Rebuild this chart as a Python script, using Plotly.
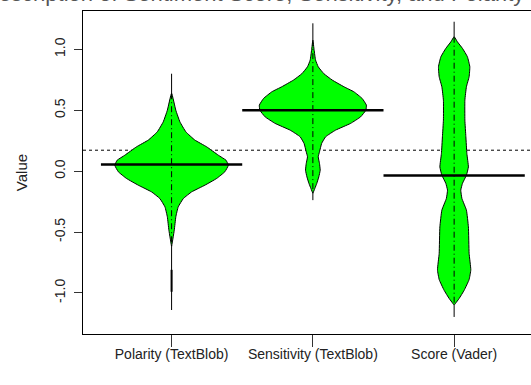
import plotly.graph_objects as go

# ---------------- data ----------------
categories = ["Polarity (TextBlob)", "Sensitivity (TextBlob)", "Score (Vader)"]
overall_mean = 0.172
bean_medians = [0.055, 0.50, -0.035]
tail_min = [-1.14, -0.238, -1.197]
tail_max = [0.80, 1.214, 1.227]

# density profiles: value levels (top -> bottom) and half widths (x units)
pol_levels = [0.64, 0.50, 0.405, 0.323, 0.255, 0.20, 0.131, 0.09, 0.049, -0.005,
              -0.06, -0.115, -0.17, -0.225, -0.293, -0.375, -0.485, -0.62]
pol_width = [0.0, 0.030, 0.059, 0.101, 0.165, 0.248, 0.331, 0.385, 0.402, 0.377,
             0.319, 0.236, 0.142, 0.083, 0.047, 0.030, 0.019, 0.0]

sen_levels = [1.076, 0.994, 0.912, 0.857, 0.80, 0.748, 0.693, 0.652, 0.597, 0.542, 0.50,
              0.446, 0.392, 0.337, 0.282, 0.227, 0.159, 0.118, 0.063, 0.008, -0.047,
              -0.10, -0.142, -0.183]
sen_width = [0.0, 0.009, 0.019, 0.038, 0.078, 0.137, 0.220, 0.290, 0.349, 0.379, 0.375,
             0.338, 0.267, 0.161, 0.090, 0.062, 0.047, 0.038, 0.047, 0.052, 0.042,
             0.028, 0.014, 0.0]

sco_levels = [1.104, 1.062, 1.008, 0.939, 0.857, 0.775, 0.693, 0.583, 0.419, 0.282, 0.145,
              0.035, -0.033, -0.10, -0.156, -0.224, -0.32, -0.457, -0.676, -0.81, -0.89,
              -0.978, -1.046, -1.10]
sco_width = [0.0, 0.023, 0.059, 0.094, 0.111, 0.106, 0.087, 0.076, 0.076, 0.083, 0.090,
             0.101, 0.087, 0.059, 0.047, 0.055, 0.087, 0.101, 0.106, 0.118, 0.106,
             0.071, 0.035, 0.0]

pol_thick_seg = [-0.81, -0.99]

y_ticks = [-1.0, -0.5, 0.0, 0.5, 1.0]
y_tick_text = ["-1.0", "-0.5", "0.0", "0.5", "1.0"]
title_text = "Description of Sentiment Score, Sensitivity, and Polarity"

levels = [pol_levels, sen_levels, sco_levels]
widths = [pol_width, sen_width, sco_width]

# ---------------- figure ----------------
fig = go.Figure()
FONT = "Liberation Sans, Arial, sans-serif"

for i, cat in enumerate(categories):
    c = i + 1
    lv, wd = levels[i], widths[i]
    xs = [c - w for w in wd] + [c + w for w in reversed(wd)]
    ys = list(lv) + list(reversed(lv))
    fig.add_trace(go.Scatter(x=xs, y=ys, mode="lines", fill="toself",
                             fillcolor="#00FF00",
                             line=dict(color="black", width=1, shape="spline", smoothing=0.35),
                             hoverinfo="skip", showlegend=False))
    # tails
    fig.add_trace(go.Scatter(x=[c, c], y=[lv[0], tail_max[i]], mode="lines",
                             line=dict(color="black", width=1), showlegend=False, hoverinfo="skip"))
    fig.add_trace(go.Scatter(x=[c, c], y=[lv[-1], tail_min[i]], mode="lines",
                             line=dict(color="black", width=1), showlegend=False, hoverinfo="skip"))
    # dash-dot inner line
    fig.add_trace(go.Scatter(x=[c, c], y=[lv[0], lv[-1]], mode="lines",
                             line=dict(color="black", width=1, dash="6px,3px,1px,3px"),
                             showlegend=False, hoverinfo="skip"))

fig.add_trace(go.Scatter(x=[1, 1], y=pol_thick_seg, mode="lines",
                         line=dict(color="black", width=2), showlegend=False, hoverinfo="skip"))

for i, m in enumerate(bean_medians):
    c = i + 1
    fig.add_trace(go.Scatter(x=[c - 0.5, c + 0.5], y=[m, m], mode="lines",
                             line=dict(color="black", width=2.5), showlegend=False,
                             hoverinfo="skip"))

fig.add_shape(type="line", xref="paper", x0=0, x1=1, yref="y", y0=overall_mean, y1=overall_mean,
              line=dict(color="black", width=1, dash="dot"), layer="below")

fig.add_annotation(text=title_text, xref="paper", yref="paper", x=-0.225, y=1.012,
                   xanchor="left", yanchor="bottom", showarrow=False, borderpad=0,
                   font=dict(family=FONT, size=22, color="#555555"))

fig.update_layout(
    width=531, height=385,
    margin=dict(l=83, r=0, t=11, b=51),
    plot_bgcolor="white", paper_bgcolor="white",
    showlegend=False,
    xaxis=dict(range=[0.373, 3.544], tickvals=[1, 2, 3], ticktext=categories,
               automargin=False,
               showgrid=False, zeroline=False, showline=True, linecolor="black",
               linewidth=1, mirror=True, ticks="outside", ticklen=12, tickcolor="#333",
               ticklabelstandoff=-5,
               tickfont=dict(family=FONT, size=14, color="#222")),
    yaxis=dict(range=[-1.337, 1.315], tickvals=y_ticks, ticktext=y_tick_text,
               automargin=False,
               showgrid=False, zeroline=False, showline=True, linecolor="black",
               linewidth=1, ticks="outside", ticklen=8, tickcolor="#333", tickangle=-90,
               ticklabelstandoff=3,
               tickfont=dict(family=FONT, size=14, color="#222"),
               title=dict(text="Value", font=dict(family=FONT, size=15, color="#222"),
                          standoff=21)),
)

fig.write_html("out.html", config={"displayModeBar": False},
               post_script="document.body.style.margin='0';document.body.style.overflow='hidden';")
